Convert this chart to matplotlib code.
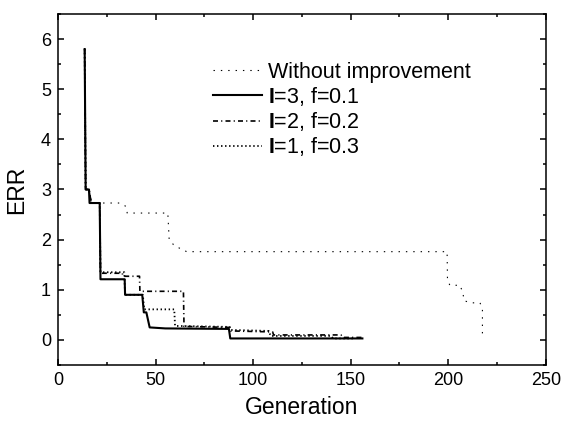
import matplotlib
matplotlib.use("Agg")
import matplotlib.pyplot as plt
from matplotlib.ticker import MultipleLocator

plt.rcParams['font.family'] = ['Liberation Sans', 'DejaVu Sans']
plt.rcParams['mathtext.fontset'] = 'custom'
plt.rcParams['mathtext.rm'] = 'Liberation Sans'
plt.rcParams['mathtext.bf'] = 'Liberation Sans:bold'
plt.rcParams['lines.scale_dashes'] = False

# without improvement
x_wo = [13.7, 14.2, 15.9, 17.1, 31.6, 35.0, 35.5, 56.3, 57.0, 59.2, 62.7, 66.0,
        199.4, 199.6, 200.8, 206.0, 207.4, 208.2, 211.8, 216.3, 217.5, 217.5]
y_wo = [5.8, 3.0, 3.0, 2.73, 2.73, 2.66, 2.53, 2.53, 2.0, 1.9, 1.82, 1.76,
        1.76, 1.2, 1.09, 1.09, 0.95, 0.78, 0.74, 0.74, 0.6, 0.03]

# I=3, f=0.1
x_i3 = [13.7, 14.2, 15.9, 16.2, 17.1, 21.4, 21.8, 34.2, 34.4, 43.2, 44.0, 45.3,
        47.0, 55.0, 87.6, 88.3, 156.0]
y_i3 = [5.8, 3.0, 3.0, 2.73, 2.73, 2.73, 1.21, 1.21, 0.9, 0.9, 0.55, 0.55,
        0.25, 0.23, 0.22, 0.03, 0.03]

# I=2, f=0.2
x_i2 = [13.7, 14.2, 15.9, 17.1, 21.4, 21.8, 33.0, 33.2, 41.8, 42.0, 64.3, 64.6,
        88.0, 88.5, 110.0, 110.5, 145.0, 146.0, 157.0]
y_i2 = [5.8, 3.0, 3.0, 2.73, 2.73, 1.33, 1.33, 1.27, 1.27, 0.97, 0.97, 0.27,
        0.25, 0.18, 0.16, 0.1, 0.1, 0.05, 0.05]

# I=1, f=0.3
x_i1 = [13.7, 14.2, 15.9, 17.1, 21.4, 21.8, 34.0, 34.4, 43.5, 44.2, 59.6, 60.0,
        88.0, 88.5, 108.0, 109.0, 140.0, 141.0, 152.0]
y_i1 = [5.8, 3.0, 3.0, 2.73, 2.73, 1.35, 1.35, 0.9, 0.9, 0.61, 0.61, 0.28,
        0.26, 0.2, 0.18, 0.08, 0.08, 0.03, 0.03]

fig = plt.figure(figsize=(5.68, 4.22), dpi=100)
ax = fig.add_axes([0.102, 0.135, 0.859, 0.832])

ax.plot(x_wo, y_wo, color='black', lw=0.8, linestyle=(0, (1, 4.3)),
        label='Without improvement')
ax.plot(x_i3, y_i3, color='black', lw=1.5, linestyle='-',
        label=r'$\mathbf{I}$=3, f=0.1')
ax.plot(x_i2, y_i2, color='black', lw=1.2, linestyle=(0, (3.6, 2.3, 0.8, 2.3)),
        label=r'$\mathbf{I}$=2, f=0.2')
ax.plot(x_i1, y_i1, color='black', lw=1.3, linestyle=(0, (1, 1.9)),
        label=r'$\mathbf{I}$=1, f=0.3')

ax.set_xlim(0, 250)
ax.set_ylim(-0.5, 6.5)
ax.xaxis.set_major_locator(MultipleLocator(50))
ax.xaxis.set_minor_locator(MultipleLocator(25))
ax.yaxis.set_major_locator(MultipleLocator(1))
ax.yaxis.set_minor_locator(MultipleLocator(0.5))
ax.tick_params(which='both', direction='in', top=True, right=True,
               labelsize=13, width=1.1)
ax.tick_params(which='major', length=4, pad=5)
ax.tick_params(which='minor', length=2.5)
for s in ax.spines.values():
    s.set_linewidth(1.1)

ax.set_xlabel('Generation', fontsize=16.5, labelpad=5)
ax.set_ylabel('ERR', fontsize=16.5, labelpad=9)

ax.legend(loc='upper left', bbox_to_anchor=(0.30, 0.888), frameon=False,
          fontsize=15.5, handlelength=2.28, handletextpad=0.28,
          labelspacing=0.1, borderaxespad=0)

fig.savefig('out.png', dpi=100)
